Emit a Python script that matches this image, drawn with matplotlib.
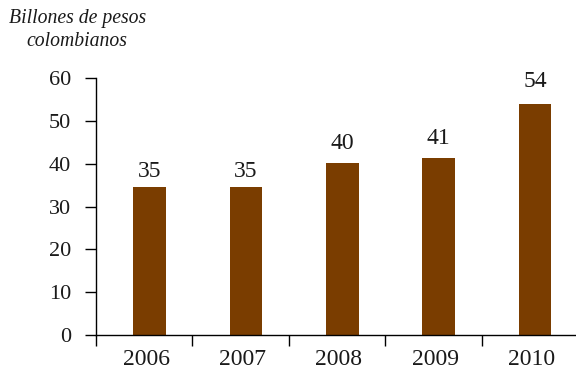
import matplotlib.pyplot as plt

years = ["2006", "2007", "2008", "2009", "2010"]
values = [34.6, 34.6, 40.2, 41.4, 54.0]
labels = ["35", "35", "40", "41", "54"]
label_pads = [3.6, 3.6, 6.5, 6.5, 8.6]

plt.rcParams['font.family'] = ['Liberation Serif', 'DejaVu Serif']

fig = plt.figure(figsize=(5.76, 3.72), dpi=100)
ax = fig.add_axes([0.1667, 0.0995, 0.8333, 0.6905])

x = list(range(len(years)))
bar_x = [i + 0.055 for i in x]
bars = ax.bar(bar_x, values, width=0.34, color="#7A3D00")
for rect, lab, pad in zip(bars, labels, label_pads):
    ax.annotate(lab, (rect.get_x() + rect.get_width() / 2, rect.get_height()),
                xytext=(0, pad), textcoords="offset points", ha="center",
                va="bottom", fontsize=17, color="#1a1a1a")

ax.set_xlim(-0.5, 4.48)
ax.set_ylim(0, 60)
ax.set_yticks(range(0, 61, 10))
ax.set_xticks([i - 0.5 for i in x])
ax.set_xticklabels([])
ax.set_xticks([i + 0.02 for i in x], minor=True)
ax.set_xticklabels(years, minor=True)
ax.tick_params(axis="x", which="minor", length=0, labelsize=17, pad=10,
               labelcolor="#1a1a1a")
ax.tick_params(axis="x", which="major", length=8, width=1, direction="out")
ax.tick_params(axis="y", length=8, width=1, labelsize=16, pad=10,
               labelcolor="#1a1a1a")

for s in ["top", "right"]:
    ax.spines[s].set_visible(False)
ax.spines["left"].set_linewidth(1)
ax.spines["bottom"].set_linewidth(1)

fig.text(0.134, 0.975, "Billones de pesos\ncolombianos", ha="center", va="top",
         fontsize=14.2, style="italic", linespacing=1.3, color="#1a1a1a")

plt.savefig("out.png")
